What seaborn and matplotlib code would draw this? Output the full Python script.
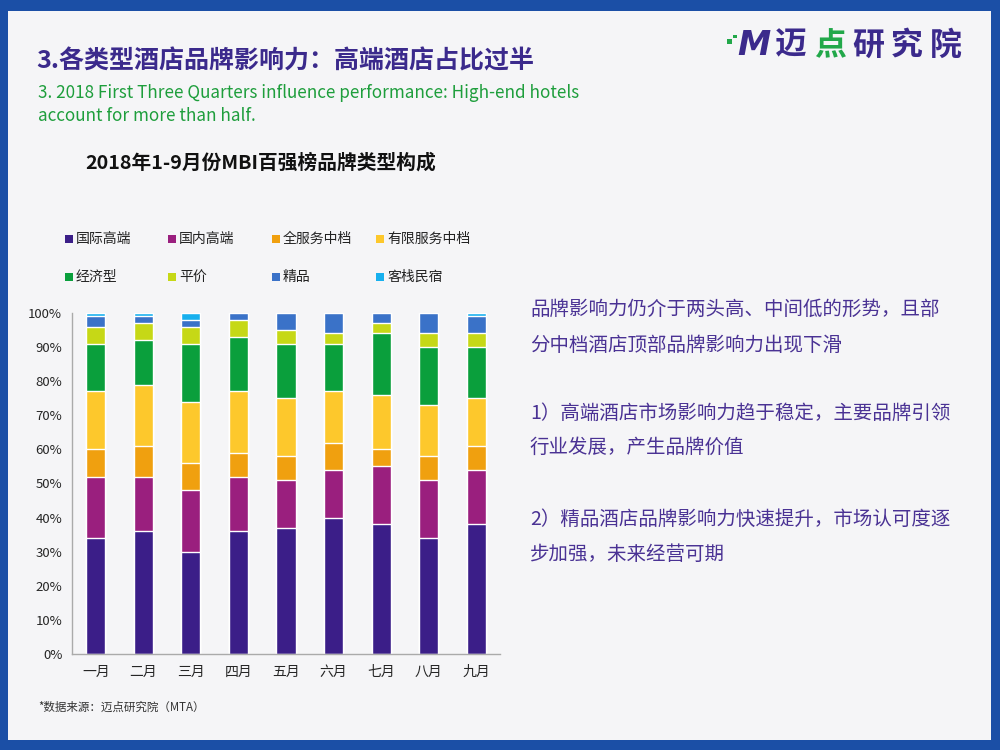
import numpy as np
import pandas as pd
import matplotlib.pyplot as plt
import matplotlib.patches as mpatches
import seaborn as sns

months = ["一月", "二月", "三月", "四月", "五月", "六月", "七月", "八月", "九月"]
types = ["国际高端", "国内高端", "全服务中档", "有限服务中档", "经济型", "平价", "精品", "客栈民宿"]
intl_high = [34, 36, 30, 36, 37, 40, 38, 34, 38]
dom_high = [18, 16, 18, 16, 14, 14, 17, 17, 16]
full_mid = [8, 9, 8, 7, 7, 8, 5, 7, 7]
ltd_mid = [17, 18, 18, 18, 17, 15, 16, 15, 14]
economy = [14, 13, 17, 16, 16, 14, 18, 17, 15]
budget = [5, 5, 5, 5, 4, 3, 3, 4, 4]
boutique = [3, 2, 2, 2, 5, 6, 3, 6, 5]
inn = [1, 1, 2, 0, 0, 0, 0, 0, 1]
colors = ["#3b1e88", "#9a1f7e", "#f0a00f", "#fdc82c", "#0a9f3c", "#c6d816", "#3a72c8", "#17b0ee"]

series = [intl_high, dom_high, full_mid, ltd_mid, economy, budget, boutique, inn]
df = pd.DataFrame({t: v for t, v in zip(types, series)}, index=months)
cum = df.cumsum(axis=1)

sns.set_style("white")
plt.rcParams["font.family"] = ["Noto Sans CJK SC", "DejaVu Sans"]

fig = plt.figure(figsize=(10, 7.5), dpi=100)
fig.patch.set_facecolor("#1b4fa6")
fig.patches.append(mpatches.Rectangle((0.008, 0.013), 0.983, 0.973, transform=fig.transFigure,
                                      facecolor="#f5f5f7", edgecolor="none", zorder=-5))

ax = fig.add_axes([0.072, 0.128, 0.428, 0.4547])
ax.set_facecolor("none")

# draw cumulative totals from the top segment down so each layer covers the next
for t, c in reversed(list(zip(types, colors))):
    sns.barplot(x=months, y=cum[t].values, color=c, saturation=1, width=0.4, ax=ax, order=months)

ax.set_ylim(0, 100)
ax.set_xlim(-0.5, 8.5)
ax.set_yticks(np.arange(0, 101, 10))
ax.set_yticklabels([f"{v}%" for v in range(0, 101, 10)], fontsize=9.5)
ax.set_xticks(range(9))
ax.set_xticklabels(months, fontsize=10)
ax.set_xticks(np.arange(-0.5, 9, 1), minor=True)
ax.tick_params(axis="x", which="major", length=0, pad=8)
ax.tick_params(axis="x", which="minor", length=4, color="#999999", direction="out")
ax.tick_params(axis="y", length=4, color="#999999", direction="out", pad=3)
for s in ["top", "right"]:
    ax.spines[s].set_visible(False)
for s in ["left", "bottom"]:
    ax.spines[s].set_color("#aaaaaa")
    ax.spines[s].set_linewidth(1)
ax.set_xlabel("")
ax.set_ylabel("")

# legend laid out row by row, fixed column pitch as in the source slide
leg_x = [0.065, 0.168, 0.272, 0.376]
leg_y = [0.681, 0.631]
for i, (t, c) in enumerate(zip(types, colors)):
    x = leg_x[i % 4]
    y = leg_y[i // 4]
    fig.patches.append(mpatches.Rectangle((x, y - 0.0055), 0.0075, 0.011, transform=fig.transFigure,
                                          facecolor=c, edgecolor="none"))
    fig.text(x + 0.011, y, t, fontsize=10, color="#222222", va="center")

# headings
fig.text(0.036, 0.918, "3.各类型酒店品牌影响力：高端酒店占比过半", fontsize=18, fontweight="bold",
         color="#3b2a8c", va="center")
fig.text(0.038, 0.876, "3. 2018 First Three Quarters influence performance: High-end hotels",
         fontsize=12.3, color="#1e9e3c", va="center")
fig.text(0.038, 0.845, "account for more than half.", fontsize=12.3, color="#1e9e3c", va="center")
fig.text(0.085, 0.783, "2018年1-9月份MBI百强榜品牌类型构成", fontsize=14.2, fontweight="bold",
         color="#111111", va="center")

# logo
fig.patches.append(mpatches.Rectangle((0.727, 0.942), 0.005, 0.006, transform=fig.transFigure,
                                      facecolor="#22a84a", edgecolor="none"))
fig.patches.append(mpatches.Rectangle((0.733, 0.949), 0.004, 0.005, transform=fig.transFigure,
                                      facecolor="#22a84a", edgecolor="none"))
fig.text(0.737, 0.939, "M", fontsize=24, fontweight="heavy", color="#3b2a8c", va="center",
         family=["DejaVu Sans"], fontstyle="italic")
for xx, ch, cc in zip([0.775, 0.814, 0.852, 0.891, 0.930], "迈点研究院",
                      ["#3b2a8c", "#22a84a", "#3b2a8c", "#3b2a8c", "#3b2a8c"]):
    fig.text(xx, 0.939, ch, fontsize=23, fontweight="heavy", color=cc, va="center")

# right-side notes
note_color = "#4a3294"
notes = [
    (0.587, "品牌影响力仍介于两头高、中间低的形势，且部"),
    (0.540, "分中档酒店顶部品牌影响力出现下滑"),
    (0.449, "1）高端酒店市场影响力趋于稳定，主要品牌引领"),
    (0.403, "行业发展，产生品牌价值"),
    (0.307, "2）精品酒店品牌影响力快速提升，市场认可度逐"),
    (0.261, "步加强，未来经营可期"),
]
for y, s in notes:
    fig.text(0.530, y, s, fontsize=14, color=note_color, va="center")

fig.text(0.038, 0.057, "*数据来源：迈点研究院（MTA）", fontsize=8.3, color="#333333", va="center")

fig.savefig("out.png", dpi=100, facecolor=fig.get_facecolor())
